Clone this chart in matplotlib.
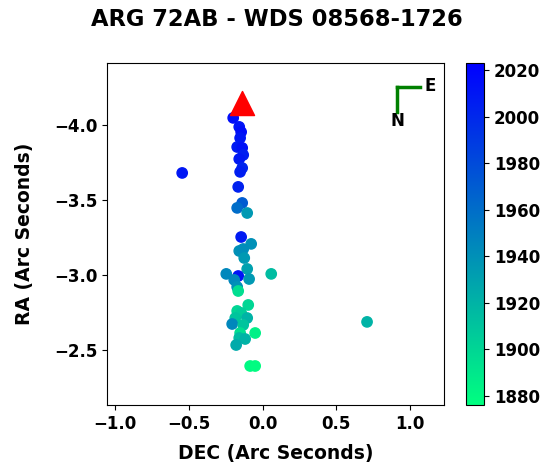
import matplotlib
matplotlib.use("Agg")
import matplotlib.pyplot as plt

# Observations (DEC, RA in arc seconds) and epochs
dec = [-0.200, -0.159, -0.146, -0.153, -0.173, -0.139, -0.132, -0.159, -0.139, -0.153,
       -0.546, -0.166, -0.139, -0.173, -0.105, -0.146,
       -0.078, -0.159, -0.132, -0.125, -0.105, -0.247, -0.166, -0.092, 0.058, -0.193,
       -0.173, -0.166, -0.098, -0.173, -0.146, -0.105, -0.186, -0.207, -0.132, -0.153,
       -0.051, -0.159, -0.119, -0.180, -0.085, -0.051, 0.708]
ra = [-4.047, -3.987, -3.953, -3.913, -3.853, -3.847, -3.800, -3.773, -3.713, -3.687,
      -3.680, -3.587, -3.480, -3.447, -3.413, -3.253,
      -3.207, -3.160, -3.173, -3.113, -3.040, -3.007, -2.993, -2.973, -3.007, -2.967,
      -2.920, -2.893, -2.800, -2.760, -2.747, -2.713, -2.713, -2.673, -2.667, -2.613,
      -2.613, -2.580, -2.573, -2.533, -2.393, -2.393, -2.687]
year = [2015, 2012, 2016, 2010, 2008, 2013, 2005, 2009, 2002, 2006,
        2010, 2004, 1970, 1960, 1935, 2008,
        1940, 1940, 1942, 1935, 1930, 1945, 2012, 1935, 1915, 1945,
        1940, 1895, 1900, 1900, 1905, 1920, 1910, 1945, 1910, 1895,
        1885, 1915, 1920, 1925, 1880, 1878, 1920]

# Predicted / current position
pred_dec = [-0.139]
pred_ra = [-4.147]

vmin, vmax = 1876, 2023

fig = plt.figure(figsize=(5.53, 4.73), dpi=100)
W, H = 553, 473
ax = fig.add_axes([107 / W, 1 - 405 / H, (444 - 107) / W, (405 - 63) / H])
cax = fig.add_axes([466 / W, 1 - 405 / H, (484 - 466) / W, (405 - 63) / H])

sc = ax.scatter(dec, ra, c=year, cmap="winter_r", vmin=vmin, vmax=vmax, s=55, zorder=2)
ax.scatter(pred_dec, pred_ra, marker="^", color="red", s=300, zorder=3)

ax.set_xlim(-1.056, 1.23)
ax.set_ylim(-2.133, -4.413)
ax.set_xticks([-1.0, -0.5, 0.0, 0.5, 1.0])
ax.set_yticks([-4.0, -3.5, -3.0, -2.5])

for lbl in ax.get_xticklabels() + ax.get_yticklabels():
    lbl.set_fontweight("bold")
ax.tick_params(labelsize=12)

ax.set_xlabel("DEC (Arc Seconds)", fontsize=13.5, fontweight="bold", labelpad=8)
ax.set_ylabel("RA (Arc Seconds)", fontsize=13.5, fontweight="bold", labelpad=14)
fig.suptitle("ARG 72AB - WDS 08568-1726", fontsize=16.3, fontweight="bold",
             x=0.5, y=1 - 20 / H, va="center")

# Compass
ax.plot([0.861, 0.929], [0.930, 0.930], color="green", lw=2.5, transform=ax.transAxes)
ax.plot([0.861, 0.861], [0.930, 0.857], color="green", lw=2.5, transform=ax.transAxes)
ax.text(0.958, 0.932, "E", transform=ax.transAxes, ha="center", va="center", fontsize=12, fontweight="bold")
ax.text(0.861, 0.830, "N", transform=ax.transAxes, ha="center", va="center", fontsize=12, fontweight="bold")

cb = fig.colorbar(sc, cax=cax)
cb.set_ticks([1880, 1900, 1920, 1940, 1960, 1980, 2000, 2020])
for lbl in cax.get_yticklabels():
    lbl.set_fontweight("bold")
cax.tick_params(labelsize=12)

fig.savefig("out.png", dpi=100)
